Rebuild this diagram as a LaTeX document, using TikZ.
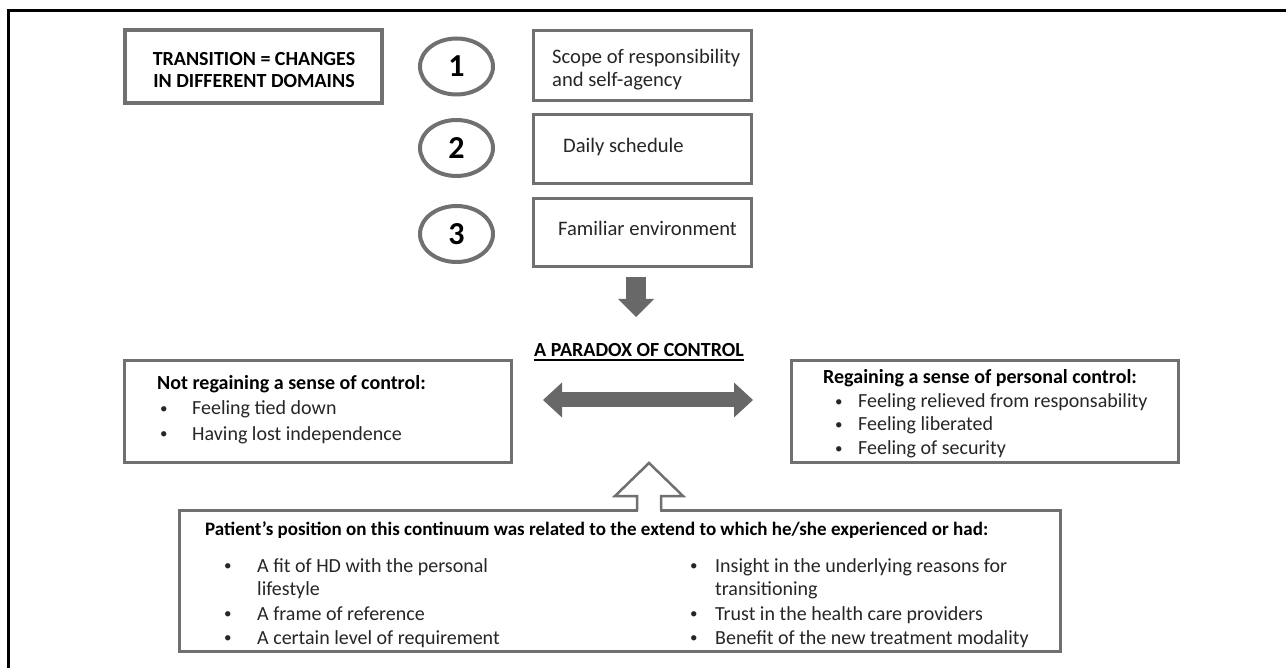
\documentclass[tikz,border=0pt]{standalone}
\usepackage{fontspec}
\setmainfont{Carlito}
\usetikzlibrary{arrows.meta,shapes.geometric}
\definecolor{bgray}{RGB}{112,112,112}
\definecolor{agray}{RGB}{104,104,104}
\definecolor{txtc}{RGB}{38,38,38}
\newcommand{\blt}[2]{\makebox[#1][l]{\raisebox{1.2pt}{\fontsize{15}{15}\selectfont •}}#2}
\begin{document}
\begin{tikzpicture}[x=1pt,y=-1pt,
  frame/.style={draw=black,line width=3pt},
  thickbox/.style={draw=bgray,line width=4pt,inner sep=0pt},
  box/.style={draw=bgray,line width=3pt,inner sep=0pt},
  numcirc/.style={ellipse,draw=bgray,line width=4pt,inner sep=0pt,minimum width=73pt,minimum height=56pt,font=\fontsize{32}{34}\selectfont\bfseries,text=black},
  txt/.style={inner sep=0pt,anchor=base west,font=\fontsize{20}{22}\selectfont,text=txtc},
  btxt/.style={inner sep=0pt,anchor=base west,font=\fontsize{20}{22}\selectfont\bfseries,text=black},
  blockarrow/.style={draw=agray,line width=20pt,-{Triangle[width=36pt,length=18pt,line width=0pt]}},
  dblarrow/.style={draw=agray,line width=15pt,{Triangle[width=35pt,length=19pt,line width=0pt]}-{Triangle[width=35pt,length=19pt,line width=0pt]}},
  hollowarrow/.style={draw=bgray,line width=2.5pt,line join=miter}
]
\useasboundingbox (0,0) rectangle (1286,668);
\fill[white] (0,0) rectangle (1286,668);
% outer frame (cropped)
\coordinate (fTL) at (8.5,10.5);
\coordinate (fTR) at (1286,10.5);
\coordinate (fBL) at (8.5,668);
\draw[frame] (fTR) -- (fTL) -- (fBL);

% title box
\node[thickbox,minimum width=257pt,minimum height=73pt] (title) at (253.5,66.5) {};
\node[btxt,anchor=base] (t1) at (254,66) {TRANSITION = CHANGES};
\node[btxt,anchor=base] (t2) at (254,87.5) {IN DIFFERENT DOMAINS};

% numbered circles
\node[numcirc] (c1) at (456.5,66.5) {1};
\node[numcirc] (c2) at (456.5,148) {2};
\node[numcirc] (c3) at (456.5,234) {3};

% domain boxes
\node[box,minimum width=218pt,minimum height=70pt] (b1) at (642.5,65.5) {};
\node[box,minimum width=218pt,minimum height=69pt] (b2) at (642.5,149) {};
\node[box,minimum width=218pt,minimum height=68pt] (b3) at (642.5,232.5) {};
\node[txt,font=\fontsize{20.6}{22}\selectfont] (b1a) at (552,63.5) {Scope of responsibility};
\node[txt,font=\fontsize{20.6}{22}\selectfont] (b1b) at (552,86.5) {and self-agency};
\node[txt,font=\fontsize{20.6}{22}\selectfont] (b2a) at (563,153) {Daily schedule};
\node[txt,font=\fontsize{20.6}{22}\selectfont] (b3a) at (558,235.5) {Familiar environment};

% down arrow
\coordinate (dTop) at (636,277);
\coordinate (dTip) at (636,317);
\draw[blockarrow] (dTop) -- (dTip);

% paradox heading
\node[btxt,anchor=base] (par) at (639,357) {A PARADOX OF CONTROL};
\draw[black,line width=1.5pt] ([yshift=-3pt]par.base west) -- ([yshift=-3pt]par.base east);

% side boxes
\node[box,minimum width=387pt,minimum height=102pt] (lbox) at (318,411.5) {};
\node[box,minimum width=387pt,minimum height=102pt] (rbox) at (985,411.5) {};
\node[btxt] (l0) at (157,390) {Not regaining a sense of control:};
\node[txt] (l1) at (160,415) {\blt{32pt}{Feeling tied down}};
\node[txt] (l2) at (160,440) {\blt{32pt}{Having lost independence}};
\node[btxt] (r0) at (823,384) {Regaining a sense of personal control:};
\node[txt] (r1) at (835,407.5) {\blt{23pt}{Feeling relieved from responsability}};
\node[txt] (r2) at (835,431) {\blt{23pt}{Feeling liberated}};
\node[txt] (r3) at (835,454.5) {\blt{23pt}{Feeling of security}};

% double arrow
\coordinate (dl) at (543,400);
\coordinate (dr) at (753,400);
\draw[dblarrow] (dl) -- (dr);

% bottom box
\node[box,minimum width=881pt,minimum height=141pt] (bbox) at (620,581) {};
\node[btxt,font=\fontsize{19}{22}\selectfont\bfseries] (p0) at (205,535) {Patient’s position on this continuum was related to the extend to which he/she experienced or had:};
\node[txt] (p1) at (224,572) {\blt{33pt}{A fit of HD with the personal}};
\node[txt] (p1b) at (257,595.5) {lifestyle};
\node[txt] (p2) at (224,620) {\blt{33pt}{A frame of reference}};
\node[txt] (p3) at (224,644) {\blt{33pt}{A certain level of requirement}};
\node[txt] (q1) at (690,572) {\blt{25pt}{Insight in the underlying reasons for}};
\node[txt] (q1b) at (715,595.5) {transitioning};
\node[txt] (q2) at (690,620) {\blt{25pt}{Trust in the health care providers}};
\node[txt] (q3) at (690,644) {\blt{25pt}{Benefit of the new treatment modality}};

% hollow up arrow from bottom box to the continuum
\coordinate (uTip) at (649,463);
\fill[white,shift={(uTip)}] (-11,50) -- (-11,33) -- (-34,33) -- (0,0) -- (34,33) -- (11,33) -- (11,50) -- cycle;
\draw[hollowarrow,shift={(uTip)}] (-12,47.5) -- (-12,33) -- (-34,33) -- (0,0) -- (34,33) -- (12,33) -- (12,47.5);
\end{tikzpicture}
\end{document}
